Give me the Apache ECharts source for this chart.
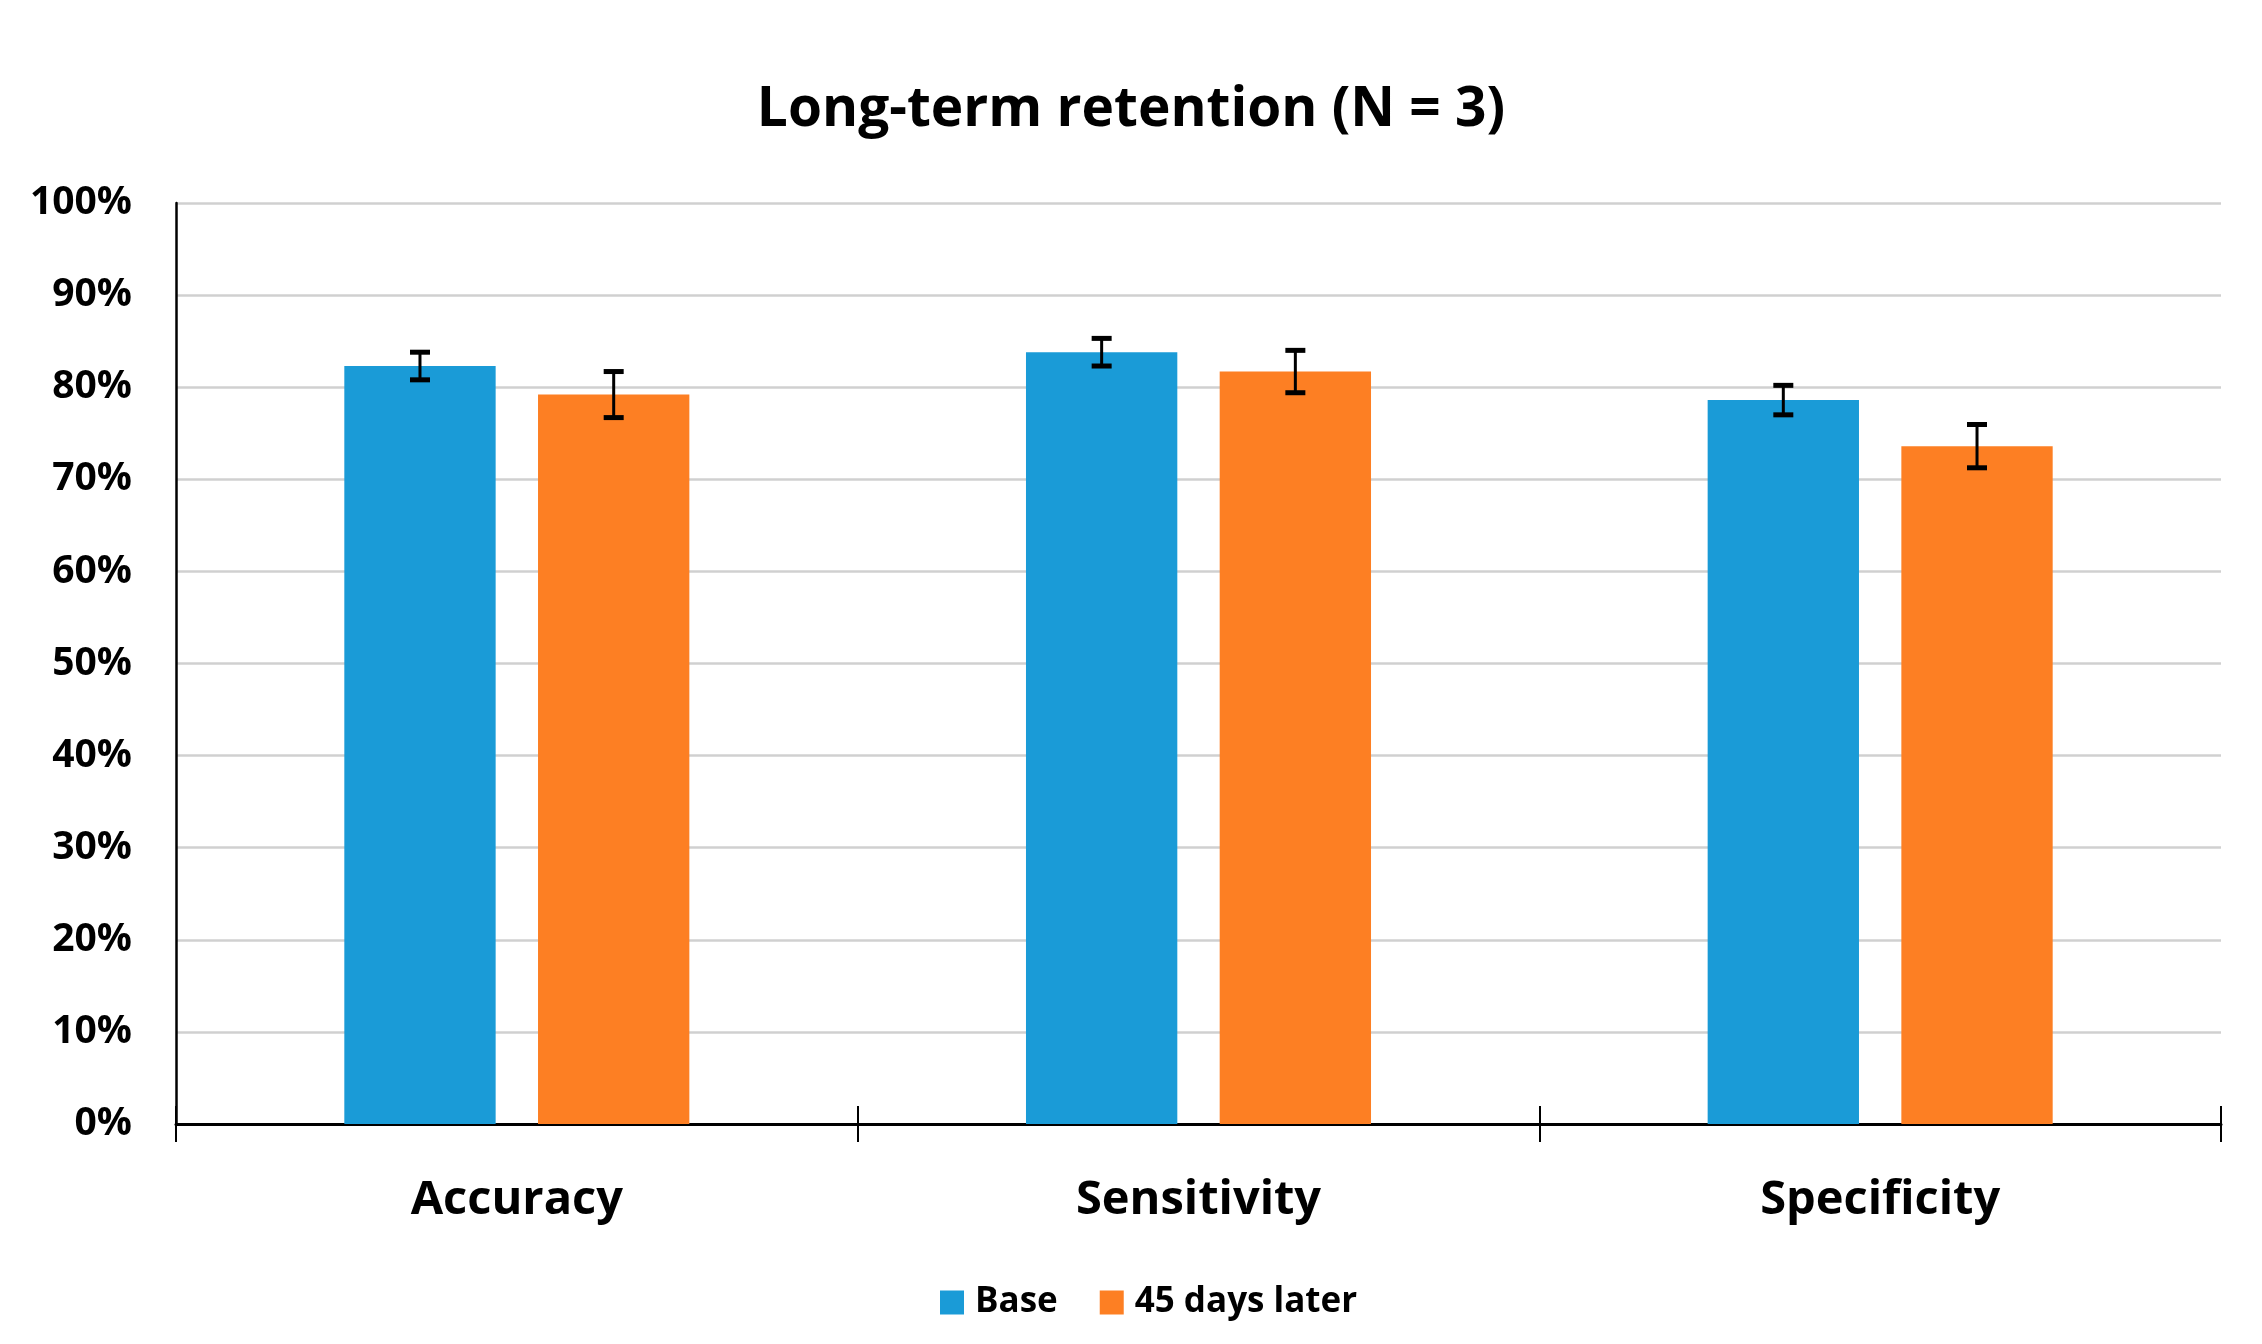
<!DOCTYPE html>
<html>
<head>
<meta charset="utf-8">
<script src="https://cdn.jsdelivr.net/npm/echarts@6/dist/echarts.min.js"></script>
<style>
html,body{margin:0;padding:0;background:#fff;}
#chart{width:2262px;height:1344px;}
</style>
</head>
<body>
<div id="chart"></div>
<script>
const titleText = 'Long-term retention (N = 3)';
const categories = ['Accuracy', 'Sensitivity', 'Specificity'];
const seriesNames = ['Base', '45 days later'];
const baseValues = [82.3, 83.8, 78.6];
const baseErr = [1.5, 1.5, 1.6];
const laterValues = [79.2, 81.7, 73.6];
const laterErr = [2.5, 2.3, 2.35];
const yTicks = [0, 10, 20, 30, 40, 50, 60, 70, 80, 90, 100];

const FONT = '"Open Sans", "Noto Sans", sans-serif';
const BLUE = '#1a9bd7';
const ORANGE = '#fd7f23';
const BAR_W = 0.222;
const GAP = 0.28 * BAR_W;
const OFFSET = (BAR_W + GAP) / 2;
const GRID = { left: 176, right: 41, top: 203, bottom: 220 };

function errData(vals, errs) {
  return vals.map((v, i) => [i, v - errs[i], v + errs[i]]);
}

function errRender(sign) {
  return function (params, api) {
    const band = api.size([1, 0])[0];
    const x0 = api.coord([api.value(0), 0])[0] + sign * OFFSET * band;
    const lo = api.coord([api.value(0), api.value(1)])[1];
    const hi = api.coord([api.value(0), api.value(2)])[1];
    const cap = 10;
    return {
      type: 'group',
      children: [
        { type: 'line', shape: { x1: x0, y1: lo, x2: x0, y2: hi }, style: { stroke: '#000', lineWidth: 3 } },
        { type: 'line', shape: { x1: x0 - cap, y1: lo, x2: x0 + cap, y2: lo }, style: { stroke: '#000', lineWidth: 5 } },
        { type: 'line', shape: { x1: x0 - cap, y1: hi, x2: x0 + cap, y2: hi }, style: { stroke: '#000', lineWidth: 5 } }
      ]
    };
  };
}

const chart = echarts.init(document.getElementById('chart'));
chart.setOption({
  backgroundColor: '#ffffff',
  animation: false,
  title: {
    text: titleText,
    left: 'center',
    top: 78,
    textStyle: { fontFamily: FONT, fontWeight: 'bold', fontSize: 55, color: '#000' }
  },
  legend: {
    data: seriesNames,
    left: 935,
    top: 1280,
    itemWidth: 24,
    itemHeight: 24,
    itemGap: 42,
    icon: 'rect',
    textStyle: { fontFamily: FONT, fontWeight: 'bold', fontSize: 35, color: '#000', padding: [0, 0, 0, 6] }
  },
  grid: [Object.assign({}, GRID), Object.assign({}, GRID)],
  xAxis: [
    {
      type: 'category',
      gridIndex: 0,
      data: categories,
      axisLine: { show: true, lineStyle: { color: '#000', width: 3 } },
      axisTick: { show: true, length: 18, lineStyle: { color: '#000', width: 2 } },
      axisLabel: { fontFamily: FONT, fontWeight: 'bold', fontSize: 47, color: '#000', margin: 53 },
      splitLine: { show: false }
    },
    {
      type: 'category',
      gridIndex: 1,
      data: categories,
      position: 'bottom',
      axisLine: { show: false },
      axisTick: { show: true, inside: true, length: 18, lineStyle: { color: '#000', width: 2 } },
      axisLabel: { show: false },
      splitLine: { show: false }
    }
  ],
  yAxis: [
    {
      type: 'value',
      gridIndex: 0,
      min: yTicks[0],
      max: yTicks[yTicks.length - 1],
      interval: 10,
      axisLine: { show: true, lineStyle: { color: '#000', width: 2.5 } },
      axisTick: { show: false },
      axisLabel: { fontFamily: FONT, fontWeight: 'bold', fontSize: 39, color: '#000', margin: 44, formatter: '{value}%' },
      splitLine: { show: true, lineStyle: { color: '#d0d0d0', width: 2.5 } }
    },
    {
      type: 'value',
      gridIndex: 1,
      min: yTicks[0],
      max: yTicks[yTicks.length - 1],
      interval: 10,
      show: false
    }
  ],
  series: [
    {
      name: seriesNames[0],
      type: 'bar',
      data: baseValues,
      barWidth: (BAR_W * 100) + '%',
      barGap: '28%',
      itemStyle: { color: BLUE },
      z: 2
    },
    {
      name: seriesNames[1],
      type: 'bar',
      data: laterValues,
      barWidth: (BAR_W * 100) + '%',
      barGap: '28%',
      itemStyle: { color: ORANGE },
      z: 2
    },
    {
      name: 'baseErr',
      type: 'custom',
      renderItem: errRender(-1),
      data: errData(baseValues, baseErr),
      encode: { x: 0, y: [1, 2] },
      z: 5,
      silent: true
    },
    {
      name: 'laterErr',
      type: 'custom',
      renderItem: errRender(1),
      data: errData(laterValues, laterErr),
      encode: { x: 0, y: [1, 2] },
      z: 5,
      silent: true
    }
  ]
});
</script>
</body>
</html>
